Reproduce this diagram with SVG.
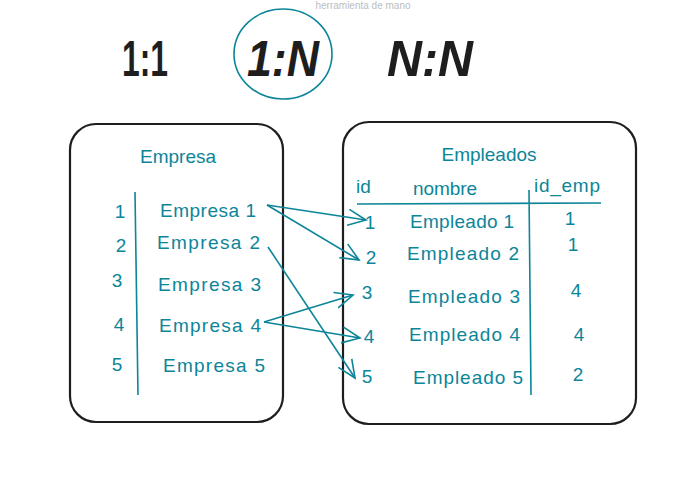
<svg xmlns="http://www.w3.org/2000/svg" width="683" height="484" viewBox="0 0 683 484">
<defs>
<style>
.t{font-family:"Liberation Sans",Arial,sans-serif;fill:#0c8599;font-size:19px}
.big{font-family:"Liberation Sans",Arial,sans-serif;fill:#1e1e1e;font-size:50px;font-weight:bold}
.box{fill:#fff;stroke:#1e1e1e;stroke-width:2.2}
.ln{stroke:#0c8599;stroke-width:1.6;fill:none}
.c{text-anchor:middle}
</style>
<marker id="ah" viewBox="0 0 20 20" refX="18" refY="10" markerWidth="20" markerHeight="20" markerUnits="userSpaceOnUse" orient="auto">
<path d="M0,2 L18,10 L0,18" fill="none" stroke="#0c8599" stroke-width="1.6"/>
</marker>
</defs>
<rect width="683" height="484" fill="#fff"/>
<g id="header">
<text x="363" y="9" font-family="Liberation Sans,Arial,sans-serif" font-size="10" fill="#bdbdbd" text-anchor="middle">herramienta de mano</text>
<text class="big c" x="145" y="76" textLength="46" lengthAdjust="spacingAndGlyphs">1:1</text>
<text class="big c" x="283" y="76" textLength="72" lengthAdjust="spacingAndGlyphs" font-style="italic">1:N</text>
<text class="big c" x="430" y="76" textLength="86" lengthAdjust="spacingAndGlyphs" font-style="italic">N:N</text>
<ellipse cx="283" cy="54" rx="49" ry="45" fill="none" stroke="#0c8599" stroke-width="1.6"/>
</g>
<g id="empresa">
<rect class="box" x="70" y="124" width="213" height="298" rx="26"/>
<text class="t c" x="178" y="163" font-size="16">Empresa</text>
<line class="ln" x1="135" y1="192" x2="138" y2="395"/>
<text class="t c" x="120" y="218">1</text>
<text class="t c" x="121" y="252">2</text>
<text class="t c" x="117" y="287">3</text>
<text class="t c" x="119" y="331">4</text>
<text class="t c" x="117" y="371">5</text>
<text class="t" x="160" y="217" textLength="96">Empresa 1</text>
<text class="t" x="157" y="249" textLength="103">Empresa 2</text>
<text class="t" x="158" y="291" textLength="103">Empresa 3</text>
<text class="t" x="159" y="332" textLength="102">Empresa 4</text>
<text class="t" x="163" y="372" textLength="102">Empresa 5</text>
</g>
<g id="empleados">
<rect class="box" x="343" y="122" width="293" height="302" rx="26"/>
<text class="t c" x="489" y="161" font-size="17">Empleados</text>
<text class="t" x="356" y="193" font-size="16">id</text>
<text class="t" x="413" y="195" font-size="16" textLength="64">nombre</text>
<text class="t" x="534" y="192" font-size="16" textLength="66">id_emp</text>
<line class="ln" x1="357" y1="204" x2="601" y2="203"/>
<line class="ln" x1="529" y1="190" x2="531" y2="395"/>
<text class="t c" x="370" y="229">1</text>
<text class="t c" x="371" y="264">2</text>
<text class="t c" x="367" y="299">3</text>
<text class="t c" x="369" y="343">4</text>
<text class="t c" x="367" y="383">5</text>
<text class="t" x="410" y="228" textLength="104">Empleado 1</text>
<text class="t" x="407" y="260" textLength="112">Empleado 2</text>
<text class="t" x="408" y="303" textLength="112">Empleado 3</text>
<text class="t" x="409" y="341" textLength="111">Empleado 4</text>
<text class="t" x="413" y="384" textLength="110">Empleado 5</text>
<text class="t c" x="570" y="225">1</text>
<text class="t c" x="573" y="251">1</text>
<text class="t c" x="576" y="297">4</text>
<text class="t c" x="579" y="341">4</text>
<text class="t c" x="578" y="381">2</text>
</g>
<g id="connectors">
<line class="ln" x1="267" y1="205" x2="366" y2="220" marker-end="url(#ah)"/>
<line class="ln" x1="267" y1="205" x2="359" y2="260" marker-end="url(#ah)"/>
<line class="ln" x1="268" y1="247" x2="355" y2="378" marker-end="url(#ah)"/>
<line class="ln" x1="264" y1="322" x2="353" y2="295" marker-end="url(#ah)"/>
<line class="ln" x1="264" y1="322" x2="360" y2="338" marker-end="url(#ah)"/>
</g>
</svg>
